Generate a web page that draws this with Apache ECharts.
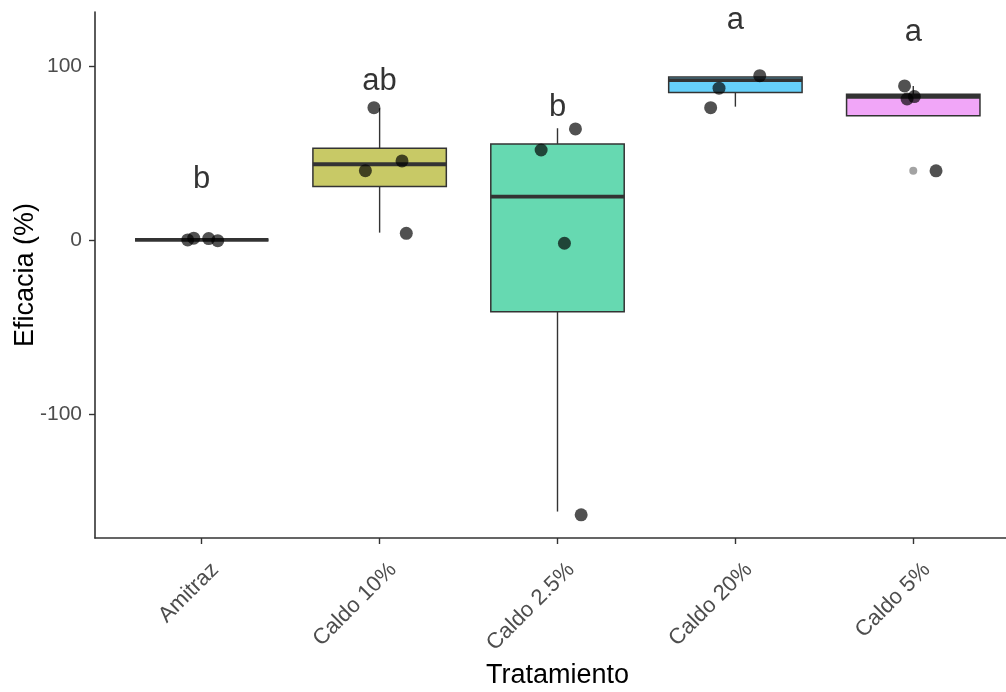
<!DOCTYPE html>
<html>
<head>
<meta charset="utf-8">
<script src="https://cdn.jsdelivr.net/npm/echarts@6/dist/echarts.min.js"></script>
<style>
html,body{margin:0;padding:0;background:#fff;}
#chart{width:1006px;height:692px;}
</style>
</head>
<body>
<div id="chart"></div>
<script>
// ---- data ----
const categories = ['Amitraz', 'Caldo 10%', 'Caldo 2.5%', 'Caldo 20%', 'Caldo 5%'];
const fills = ['#fbada7', '#c8c966', '#66d9b1', '#66d0fa', '#f1a6f8'];
// [lower whisker, Q1, median, Q3, upper whisker]
const amitrazBox = [0, 0, 0, 0, 0];
const caldo10Box = [4.2, 30.7, 43.5, 52.7, 75.7];
const caldo25Box = [-156.1, -41.2, 24.9, 55.2, 64.2];
const caldo20Box = [76.6, 84.7, 91.8, 93.6, 93.6];
const caldo5Box = [71.4, 71.4, 82.2, 83.7, 88.5];
// jittered observations: group index, horizontal jitter, value
const pointGroup  = [0, 0, 0, 0, 1, 1, 1, 1, 2, 2, 2, 2, 3, 3, 3, 4, 4, 4, 4];
const pointJitter = [-0.079, -0.045, 0.039, 0.090, -0.032, -0.080, 0.126, 0.150, 0.101, -0.092, 0.039, 0.133, 0.137, -0.092, -0.139, -0.049, -0.035, 0.006, 0.128];
const pointValues = [0, 1, 0.8, -0.4, 76.0, 39.8, 45.4, 3.8, 63.8, 51.7, -1.9, -158, 94.4, 87.2, 76.0, 88.5, 81.0, 82.4, 39.7];
// boxplot outliers
const outlierGroup = [4];
const outlierValues = [39.7];
// significance letters
const letters = ['b', 'ab', 'b', 'a', 'a'];
const letterValues = [34.8, 90.9, 76.0, 126.0, 119.4];
const yTicks = [-100, 0, 100];

const boxes = [amitrazBox, caldo10Box, caldo25Box, caldo20Box, caldo5Box];
const boxData = boxes.map((b, i) => [i + 1].concat(b));
const pointData = pointValues.map((v, i) => [pointGroup[i] + 1 + pointJitter[i], v]);
const outlierData = outlierValues.map((v, i) => [outlierGroup[i] + 1, v]);
const letterData = letters.map((l, i) => ({ value: [i + 1, letterValues[i]], name: l }));

const FONT = '"Liberation Sans", Arial, sans-serif';
const BOX_WIDTH = 0.75;

function renderBox(params, api) {
  const x = api.value(0);
  const lo = api.coord([x, api.value(1)]);
  const q1 = api.coord([x, api.value(2)]);
  const med = api.coord([x, api.value(3)]);
  const q3 = api.coord([x, api.value(4)]);
  const hi = api.coord([x, api.value(5)]);
  const halfW = api.size([BOX_WIDTH, 0])[0] / 2;
  const stroke = '#333333';
  return {
    type: 'group',
    children: [
      { type: 'line', shape: { x1: lo[0], y1: lo[1], x2: q1[0], y2: q1[1] }, style: { stroke: stroke, lineWidth: 1.4 } },
      { type: 'line', shape: { x1: q3[0], y1: q3[1], x2: hi[0], y2: hi[1] }, style: { stroke: stroke, lineWidth: 1.4 } },
      { type: 'rect', shape: { x: q1[0] - halfW, y: q3[1], width: 2 * halfW, height: q1[1] - q3[1] },
        style: { fill: fills[params.dataIndex], stroke: stroke, lineWidth: 1.5 } },
      { type: 'line', shape: { x1: med[0] - halfW, y1: med[1], x2: med[0] + halfW, y2: med[1] },
        style: { stroke: stroke, lineWidth: 3.8 } }
    ]
  };
}

const chart = echarts.init(document.getElementById('chart'), null, { renderer: 'canvas' });
chart.setOption({
  animation: false,
  backgroundColor: '#ffffff',
  grid: { left: 95, right: -14, top: 12, bottom: 154, containLabel: false, outerBoundsMode: 'none' },
  xAxis: {
    type: 'value', min: 0.4, max: 5.6,
    name: 'Tratamiento', nameLocation: 'middle', nameGap: 123,
    nameTextStyle: { fontFamily: FONT, fontSize: 27, color: '#000' },
    splitLine: { show: false },
    axisLine: { show: true, onZero: false, lineStyle: { color: '#333', width: 1.6 } },
    axisTick: { show: true, customValues: [1, 2, 3, 4, 5], length: 6, lineStyle: { color: '#333', width: 1.4 } },
    axisLabel: {
      customValues: [1, 2, 3, 4, 5], rotate: 45, margin: 15, verticalAlign: 'top', padding: [8, 0, 0, 0],
      fontFamily: FONT, fontSize: 22, color: '#4d4d4d',
      formatter: v => categories[Math.round(v) - 1] || ''
    }
  },
  yAxis: {
    type: 'value', min: -171.3, max: 131,
    name: 'Eficacia (%)', nameLocation: 'middle', nameGap: 56, nameMoveOverlap: false,
    nameTextStyle: { fontFamily: FONT, fontSize: 27, color: '#000' },
    splitLine: { show: false },
    axisLine: { show: true, onZero: false, lineStyle: { color: '#333', width: 1.6 } },
    axisTick: { show: true, customValues: yTicks, length: 6, lineStyle: { color: '#333', width: 1.4 } },
    axisLabel: { customValues: yTicks, margin: 13, fontFamily: FONT, fontSize: 21, color: '#4d4d4d' }
  },
  series: [
    { type: 'custom', renderItem: renderBox, data: boxData, encode: { x: 0, y: [1, 2, 3, 4, 5] }, z: 2 },
    { type: 'scatter', data: outlierData, symbolSize: 8, itemStyle: { color: 'rgba(0,0,0,0.45)' }, z: 3 },
    { type: 'scatter', data: pointData, symbolSize: 13, itemStyle: { color: 'rgba(0,0,0,0.85)' }, z: 4 },
    { type: 'scatter', data: letterData, symbolSize: 0, z: 5,
      label: { show: true, position: 'inside', formatter: p => p.name,
        fontFamily: FONT, fontSize: 31, color: '#000000', textBorderWidth: 0 } }
  ]
});
</script>
</body>
</html>
